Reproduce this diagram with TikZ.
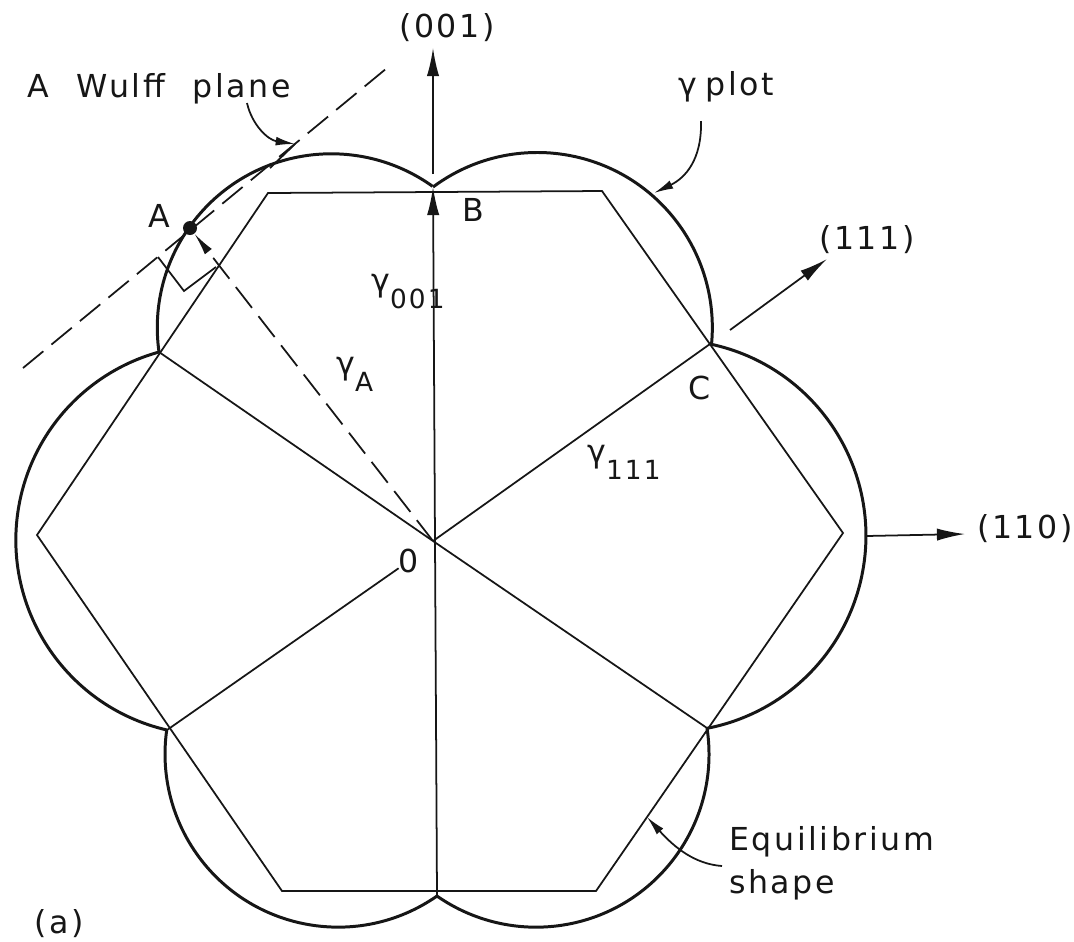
\documentclass[tikz,border=0pt]{standalone}
\usepackage{fontspec}
\setmainfont{DejaVu Sans}[LetterSpace=8,WordSpace=2.2]
\usetikzlibrary{arrows.meta,calc}
\definecolor{inkBlack}{RGB}{22,22,22}
\newcommand{\gsub}[1]{γ\raisebox{-10pt}{\fontsize{15pt}{15pt}\selectfont #1}}

\tikzset{
  lobe/.style={draw=inkBlack, line width=1.7pt},
  facet/.style={draw=inkBlack, line width=1pt},
  wulff/.style={draw=inkBlack, line width=1pt, dash pattern=on 15pt off 6pt},
  vec/.style={draw=inkBlack, line width=1pt, -{Latex[length=16pt,width=7pt]}},
  pointer/.style={draw=inkBlack, line width=1pt, -{Latex[length=11pt,width=5pt]}},
  lbl/.style={inner sep=0pt, text=inkBlack, font=\fontsize{18pt}{24pt}\selectfont}
}

\begin{document}
\begin{tikzpicture}[x=0.02cm, y=-0.02cm]
  \useasboundingbox (0,0) rectangle (1074,941);

  % cusps of the gamma plot
  \coordinate (O) at (433,541);
  \coordinate (B) at (433,187);
  \coordinate (C) at (710,344);
  \coordinate (RL) at (707,728);
  \coordinate (Bot) at (437,896);
  \coordinate (LL) at (167,730);
  \coordinate (UL) at (159,352);
  \coordinate (A) at (190,228);

  % gamma plot
  \draw[lobe] (UL) arc[start angle=172, end angle=305.6, radius=174];
  \draw[lobe] (B) arc[start angle=233.4, end angle=365.6, radius=175];
  \draw[lobe] (C) arc[start angle=-78.2, end angle=79.1, radius=196];
  \draw[lobe] (RL) arc[start angle=-8.7, end angle=124.9, radius=173];
  \draw[lobe] (Bot) arc[start angle=55.1, end angle=188, radius=173];
  \draw[lobe] (LL) arc[start angle=103, end angle=254.5, radius=195];

  % equilibrium shape
  \coordinate (e1) at (268,193);
  \coordinate (e2) at (602,191);
  \coordinate (e3) at (843,533);
  \coordinate (e4) at (596,891);
  \coordinate (e5) at (282,891);
  \coordinate (e6) at (37,535);
  \draw[facet] (e1) -- (e2) -- (e3) -- (e4) -- (e5) -- (e6) -- cycle;

  % radii
  \node[lbl] (lbl0) at (409,561) {0};
  \draw[facet] (O) -- (UL);
  \draw[facet] (O) -- (C);
  \draw[facet] (O) -- (RL);
  \draw[facet] (LL) -- (lbl0);
  \draw[vec] (Bot) -- (B);

  % Wulff plane at A
  \coordinate (w1) at (23,368);
  \coordinate (w2) at (387,68);
  \draw[wulff] (w1) -- (w2);
  \draw[wulff, -{Latex[length=13pt,width=5pt]}, shorten >=4pt] (O) -- (A);
  \draw[facet] (158,257) -- (184,291) -- (216,267);
  \fill[inkBlack] (A) circle[radius=7];

  % directions
  \node[lbl] (n001) at (447,28) {(001)};
  \node[lbl] (n111) at (867,240) {(111)};
  \node[lbl] (n110) at (1025,529) {(110)};
  \coordinate (s001) at (433,174);
  \coordinate (t001) at (433,48);
  \coordinate (s111) at (730,330);
  \coordinate (t111) at (827,259);
  \coordinate (s110) at (866,536);
  \coordinate (t110) at (965,534);
  \draw[vec] (s001) -- (t001);
  \draw[vec] (s111) -- (t111);
  \draw[vec] (s110) -- (t110);

  % labels
  \node[lbl] (lblA) at (159,216) {A};
  \node[lbl] (lblB) at (473,210) {B};
  \node[lbl] (lblC) at (700,388) {C};
  \node[lbl, anchor=base west] (g001) at (371,291) {\gsub{001}};
  \node[lbl, anchor=base west] (gA) at (336,374) {\gsub{A}};
  \node[lbl, anchor=base west] (g111) at (587,462) {\gsub{111}};
  \node[lbl, anchor=base west] (wulffTxt) at (27,97) {A Wulff plane};
  \node[lbl, anchor=base west] (gplotTxt) at (678,95) {γ\hspace{5pt}plot};
  \node[lbl, anchor=base west, align=left] (eqTxt) at (729,893) {Equilibrium\\shape};
  \node[lbl] (lblTag) at (59,924) {(a)};

  % pointers
  \coordinate (pw) at (295,144);
  \draw[pointer] (247,103) .. controls (252,125) and (268,140) .. (pw);
  \draw[facet] (pw) -- (270,168);
  \draw[pointer] (701,121) .. controls (702,160) and (685,178) .. (654,193);
  \draw[pointer] (722,866) .. controls (695,864) and (675,848) .. (647,817);
\end{tikzpicture}
\end{document}
